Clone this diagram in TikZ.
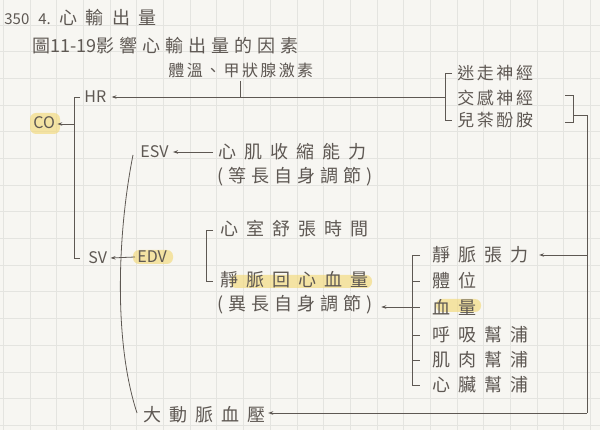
\documentclass[tikz,border=0pt]{standalone}
\usepackage{fontspec}
\newfontfamily\hand[LetterSpace=45]{Noto Sans CJK TC}
\newfontfamily\handmid[LetterSpace=28]{Noto Sans CJK TC}
\newfontfamily\handtight[LetterSpace=15]{Noto Sans CJK TC}
\newfontfamily\handlat{Noto Sans CJK TC}
\usetikzlibrary{arrows.meta}
\definecolor{ink}{HTML}{5E5853}
\definecolor{paper}{HTML}{F7F6F2}
\definecolor{gridc}{HTML}{E4E4E0}
\definecolor{marker}{HTML}{F3D97A}
\begin{document}
\begin{tikzpicture}[x=1pt, y=-1pt, line width=0.8pt, color=ink,
    every node/.style={font=\hand\fontsize{18}{20}\selectfont, text=ink, inner sep=0pt, anchor=west},
    lat/.style={font=\handlat\fontsize{16}{18}\selectfont},
    tight/.style={font=\handtight\fontsize{17}{19}\selectfont},
    paren/.style={font=\handmid\fontsize{18}{20}\selectfont},
    tip/.style={-{Stealth[length=5pt,width=3.5pt]}},
    hl/.style={fill=marker, opacity=0.65, rounded corners=6pt}]
  % --- paper ---
  \useasboundingbox (0,0) rectangle (600,430);
  \fill[paper] (0,0) rectangle (600,430);
  \foreach \i in {0,...,22}
    \draw[gridc, line width=0.4pt] ({3.33+26.67*\i},0) -- ++(0,430);
  \foreach \j in {0,...,16}
    \draw[gridc, line width=0.4pt] (0,{-1.67+26.67*\j}) -- ++(600,0);
  % --- marker ---
  \fill[hl] (30,113) rectangle (60,134);
  \fill[hl] (133,250) rectangle (173,264);
  \fill[hl] (230,275) rectangle (372,288);
  \fill[hl] (436,299) rectangle (481,312);
  % --- titles ---
  \node (title) at (4,18) {\handlat\fontsize{15}{17}\selectfont 350\hspace{9pt}4.\hspace{9pt}{\hand\fontsize{18}{20}\selectfont 心輸出量}};
  \node (fig) at (32,46) {\handmid 圖\handlat 11-19\handmid 影響心輸出量的因素};
  \node[tight, font=\handtight\fontsize{16}{18}\selectfont] (temp) at (168,70) {體溫、甲狀腺激素};
  % --- left column ---
  \node[lat] (hr) at (84,97) {HR};
  \node[lat] (co) at (33,123) {CO};
  \node[lat] (esv) at (140,152) {ESV};
  \node[lat] (sv) at (88,258) {SV};
  \node[lat] (edv) at (137,257) {EDV};
  \node (aorta) at (143,415) {大動脈血壓};
  % --- middle column ---
  \node (contr) at (218,152) {心肌收縮能力};
  \node[paren] (homeo) at (217,177) {(等長自身調節)};
  \node (diast) at (220,229) {心室舒張時間};
  \node (venret) at (220,280) {靜脈回心血量};
  \node[paren] (hetero) at (217,305) {(異長自身調節)};
  % --- right column ---
  \node[tight] (vagus) at (457,73) {迷走神經};
  \node[tight] (symp) at (457,98) {交感神經};
  \node[tight] (catec) at (457,120) {兒茶酚胺};
  \node (vtone) at (432,255) {靜脈張力};
  \node (posture) at (432,281) {體位};
  \node (bvol) at (432,307) {血量};
  \node (resp) at (432,335) {呼吸幫浦};
  \node (muscle) at (432,360) {肌肉幫浦};
  \node (heart) at (432,385) {心臟幫浦};
  % --- HR inputs ---
  \coordinate (nl) at (445,97);
  \draw (452,73) -- (445,73) -- (445,120) -- (452,120);
  \draw[tip] (nl) -- ([xshift=5pt]hr.east |- nl);
  \draw (temp.south) ++(0,3) -- (temp.south |- nl);
  \draw (565,95) -- (573,95) -- (573,122) -- (565,122);
  \coordinate (rb) at (573,115);
  \coordinate (rc) at (587,115);
  \coordinate (rd) at (587,413);
  \draw (rb) -- (rc) -- (rd);
  \draw[tip] (rc |- vtone) -- ([xshift=10pt]vtone.east);
  \draw[tip] (rd) -- ([xshift=2pt]aorta.east |- rd);
  % --- CO = HR x SV ---
  \draw (80,97) -- (74,97) -- (74,258) -- (80,258);
  \draw[tip] (74,124) -- ([xshift=2pt]co.east |- 74,124);
  \draw[tip] ([xshift=-5pt]contr.west) -- ([xshift=4pt]esv.east);
  \draw[tip] ([xshift=-2pt]edv.west) -- ([xshift=3pt]sv.east);
  \draw (133,155) .. controls (118,230) and (113,340) .. (137,413);
  % --- EDV factors ---
  \draw (213,230) -- (206,230) -- (206,281) -- (213,281);
  \draw (420,255) -- (412,255) -- (412,385) -- (420,385);
  \foreach \y in {281,307,335,360}
    \draw (412,\y) -- (420,\y);
  \draw[tip] (412,307) -- ([xshift=8pt]hetero.east |- 412,307);
\end{tikzpicture}
\end{document}
